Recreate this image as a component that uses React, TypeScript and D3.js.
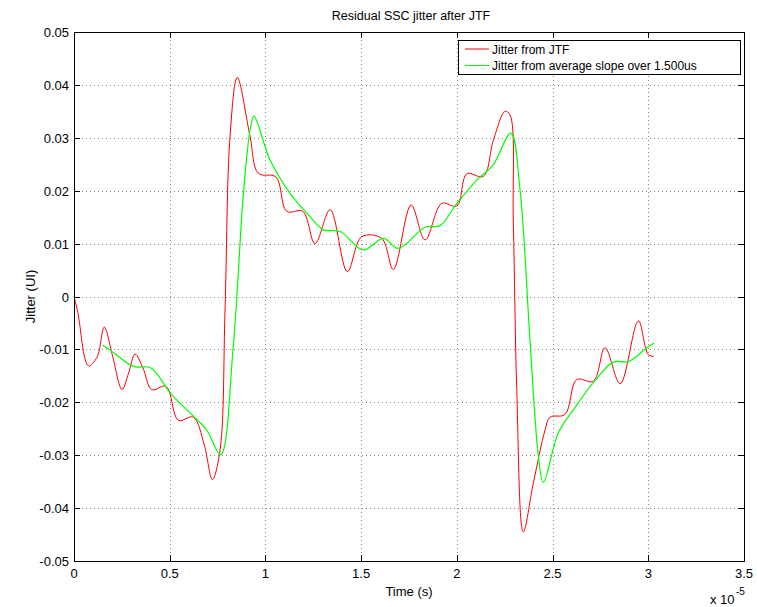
import React from 'react';
import * as d3 from 'd3';

// time in units of 1e-5 s, jitter in UI
const jtfTime = [0.0, 0.02, 0.075, 0.12, 0.158, 0.2, 0.251, 0.285, 0.319, 0.36, 0.406, 0.481, 0.545, 0.623, 0.68, 0.723, 0.763, 0.789, 0.815, 0.853, 0.92, 0.963, 1.055, 1.111, 1.195, 1.259, 1.338, 1.428, 1.503, 1.607, 1.668, 1.761, 1.834, 1.921, 2.0, 2.052, 2.138, 2.191, 2.252, 2.278, 2.295, 2.313, 2.347, 2.4, 2.461, 2.487, 2.565, 2.626, 2.713, 2.774, 2.853, 2.948, 3.0, 3.03];
const jtfJitter = [0.0, -0.003, -0.0131, -0.0115, -0.0058, -0.011, -0.0176, -0.0145, -0.0109, -0.0135, -0.0176, -0.017, -0.0234, -0.0228, -0.028, -0.0346, -0.029, -0.0025, 0.0302, 0.0414, 0.0302, 0.0233, 0.0226, 0.0161, 0.0161, 0.01, 0.0164, 0.0047, 0.0113, 0.011, 0.0051, 0.0173, 0.0107, 0.0176, 0.0171, 0.0232, 0.0227, 0.0296, 0.035, 0.0343, 0.0139, -0.0176, -0.0445, -0.0352, -0.0252, -0.0228, -0.0223, -0.0157, -0.016, -0.0097, -0.0165, -0.0046, -0.011, -0.0113];

const slopeTime = [0.15, 0.188, 0.31, 0.402, 0.502, 0.623, 0.693, 0.766, 0.832, 0.885, 0.92, 0.94, 1.024, 1.129, 1.233, 1.303, 1.39, 1.511, 1.616, 1.694, 1.834, 1.912, 2.0, 2.104, 2.19, 2.282, 2.33, 2.382, 2.426, 2.452, 2.53, 2.609, 2.713, 2.817, 2.896, 2.992, 3.03];
const slopeJitter = [-0.0092, -0.0101, -0.0132, -0.0135, -0.0182, -0.0226, -0.0252, -0.0299, -0.0094, 0.0195, 0.0315, 0.0341, 0.0258, 0.0195, 0.0151, 0.0126, 0.0123, 0.0088, 0.011, 0.0091, 0.0131, 0.0134, 0.0176, 0.022, 0.0249, 0.0309, 0.0202, -0.0082, -0.0302, -0.0351, -0.0258, -0.0214, -0.0163, -0.0124, -0.0123, -0.0097, -0.0088];

const xTicks = [0, 0.5, 1, 1.5, 2, 2.5, 3, 3.5];
const yTicks = [-0.05, -0.04, -0.03, -0.02, -0.01, 0, 0.01, 0.02, 0.03, 0.04, 0.05];

const title = 'Residual SSC jitter after JTF';
const seriesNames = ['Jitter from JTF', 'Jitter from average slope over 1.500us'];
const seriesColors = ['#ff0000', '#00ff00'];

const font = '"Liberation Sans", Arial, Helvetica, sans-serif';

export default function App() {
  const ref = React.useRef<SVGSVGElement>(null);

  React.useEffect(() => {
    const svg = d3.select(ref.current);
    svg.selectAll('*').remove();

    const left = 74, right = 744, top = 32, bottom = 561;
    const x = d3.scaleLinear().domain([0, 3.5]).range([left, right]);
    const y = d3.scaleLinear().domain([-0.05, 0.05]).range([bottom, top]);

    svg.append('rect').attr('width', 757).attr('height', 607).attr('fill', '#fff');

    // grid
    const grid = svg.append('g').attr('stroke', '#888').attr('stroke-width', 1).attr('stroke-dasharray', '1,3');
    xTicks.slice(1, -1).forEach(t => {
      grid.append('line').attr('x1', Math.round(x(t)) + 0.5).attr('x2', Math.round(x(t)) + 0.5)
        .attr('y1', top).attr('y2', bottom);
    });
    yTicks.slice(1, -1).forEach(t => {
      grid.append('line').attr('y1', Math.round(y(t)) + 0.5).attr('y2', Math.round(y(t)) + 0.5)
        .attr('x1', left).attr('x2', right);
    });

    // tick marks on all four sides, pointing inwards
    const ticks = svg.append('g').attr('stroke', '#000').attr('stroke-width', 1);
    xTicks.forEach(t => {
      const px = Math.round(x(t)) + 0.5;
      ticks.append('line').attr('x1', px).attr('x2', px).attr('y1', bottom).attr('y2', bottom - 6);
      ticks.append('line').attr('x1', px).attr('x2', px).attr('y1', top).attr('y2', top + 6);
    });
    yTicks.forEach(t => {
      const py = Math.round(y(t)) + 0.5;
      ticks.append('line').attr('y1', py).attr('y2', py).attr('x1', left).attr('x2', left + 6);
      ticks.append('line').attr('y1', py).attr('y2', py).attr('x1', right).attr('x2', right - 6);
    });

    // lines
    const line = d3.line<[number, number]>()
      .x(d => x(d[0]))
      .y(d => y(d[1]))
      .curve(d3.curveCatmullRom.alpha(0.5));

    const jtf = jtfTime.map((t, i) => [t, jtfJitter[i]] as [number, number]);
    const slope = slopeTime.map((t, i) => [t, slopeJitter[i]] as [number, number]);

    svg.append('path').datum(jtf).attr('fill', 'none').attr('stroke', seriesColors[0])
      .attr('stroke-width', 1).attr('d', line);
    svg.append('path').datum(slope).attr('fill', 'none').attr('stroke', seriesColors[1])
      .attr('stroke-width', 1.2).attr('d', line);

    // box
    svg.append('rect').attr('x', left + 0.5).attr('y', top + 0.5)
      .attr('width', right - left).attr('height', bottom - top)
      .attr('fill', 'none').attr('stroke', '#000');

    // tick labels
    const labels = svg.append('g').attr('font-family', font).attr('font-size', 13).attr('fill', '#000');
    xTicks.forEach(t => {
      labels.append('text').attr('x', x(t)).attr('y', bottom + 17)
        .attr('text-anchor', 'middle').text(d3.format('~g')(t));
    });
    yTicks.forEach(t => {
      labels.append('text').attr('x', left - 5).attr('y', y(t) + 5)
        .attr('text-anchor', 'end').text(t === 0 ? '0' : t.toFixed(2));
    });

    // exponent
    labels.append('text').attr('x', 710).attr('y', 604).text('x 10');
    labels.append('text').attr('x', 736).attr('y', 595).attr('font-size', 10).text('-5');

    // axis titles
    svg.append('text').attr('x', (left + right) / 2 + 2).attr('y', 20)
      .attr('text-anchor', 'middle').attr('font-family', font).attr('font-size', 12.5).text(title);
    svg.append('text').attr('x', (left + right) / 2).attr('y', 596)
      .attr('text-anchor', 'middle').attr('font-family', font).attr('font-size', 13).text('Time (s)');
    svg.append('text').attr('transform', `translate(35,${(top + bottom) / 2}) rotate(-90)`)
      .attr('text-anchor', 'middle').attr('font-family', font).attr('font-size', 13).text('Jitter (UI)');

    // legend
    const lg = svg.append('g');
    lg.append('rect').attr('x', 458.5).attr('y', 40.5).attr('width', 282).attr('height', 34)
      .attr('fill', '#fff').attr('stroke', '#000');
    seriesNames.forEach((name, i) => {
      const ly = 49 + i * 16.5;
      lg.append('line').attr('x1', 465).attr('x2', 489).attr('y1', ly).attr('y2', ly)
        .attr('stroke', seriesColors[i]);
      lg.append('text').attr('x', 492).attr('y', ly + 4.5).attr('font-family', font)
        .attr('font-size', 12).text(name);
    });
  }, []);

  return (
    <svg ref={ref} width={757} height={607}
      style={{ position: 'absolute', left: 0, top: 0, display: 'block' }} />
  );
}
